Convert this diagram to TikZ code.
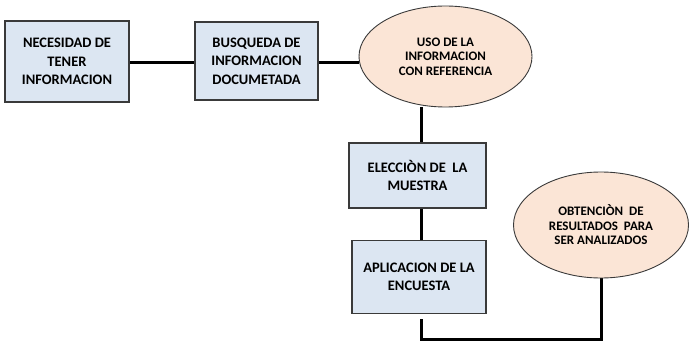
\documentclass[tikz,border=0pt]{standalone}
\usepackage{fontspec}
\setmainfont{Carlito}
\usetikzlibrary{shapes.geometric, backgrounds}

\definecolor{boxblue}{HTML}{DCE6F2}
\definecolor{ellpeach}{HTML}{FBE5D6}
\definecolor{edgegray}{HTML}{3A3A3A}

\tikzset{
	stepbox/.style={draw=edgegray, line width=1.2pt, fill=boxblue, rectangle, align=center, inner sep=0pt,
		font=\fontsize{14.5}{18.5}\selectfont\bfseries},
	stepell/.style={draw=edgegray, line width=0.9pt, fill=ellpeach, ellipse, align=center, inner sep=0pt,
		font=\fontsize{13}{14.5}\selectfont\bfseries},
	link/.style={line width=3pt, black}
}

\begin{document}
\begin{tikzpicture}[x=1pt, y=-1pt]
		\useasboundingbox (0,0) rectangle (690,342);

		% Process steps
		\node[stepbox, minimum width=124pt, minimum height=81pt] (necesidad) at (67,61.5) {NECESIDAD DE\\TENER\\INFORMACION};
		\node[stepbox, minimum width=123pt, minimum height=78pt] (busqueda) at (256.5,61) {BUSQUEDA DE\\INFORMACION\\DOCUMETADA};
		\node[stepell, minimum width=173pt, minimum height=101pt] (uso) at (445.5,56.5) {USO DE LA\\INFORMACION\\CON REFERENCIA};
		\node[stepbox, minimum width=137pt, minimum height=65pt] (eleccion) at (417.5,175.5) {ELECCIÒN DE~ LA\\MUESTRA};
		\node[stepbox, minimum width=134pt, minimum height=73pt] (aplicacion) at (419,277) {APLICACION DE LA\\ENCUESTA};
		\node[stepell, minimum width=175pt, minimum height=106pt] (obtencion) at (601,225) {OBTENCIÒN~ DE\\RESULTADOS~ PARA\\SER ANALIZADOS};

		% Free ends of the last connector
		\coordinate (aplout) at (421.5,319);
		\coordinate (bottom) at (421.5,339.5);

		% Connectors
		\begin{scope}[on background layer]
			\draw[link] (necesidad.east |- 0,62.5) -- (busqueda.west |- 0,62.5);
			\draw[link] (busqueda.east |- 0,62.5) -- (uso.west |- 0,62.5);
			\draw[link] (uso.south -| aplout) -- (eleccion.north -| aplout);
			\draw[link] (eleccion.south -| aplout) -- (aplicacion.north -| aplout);
			\draw[link] (aplout) -- (bottom) -| (obtencion.south);
		\end{scope}

	\end{tikzpicture}
\end{document}
